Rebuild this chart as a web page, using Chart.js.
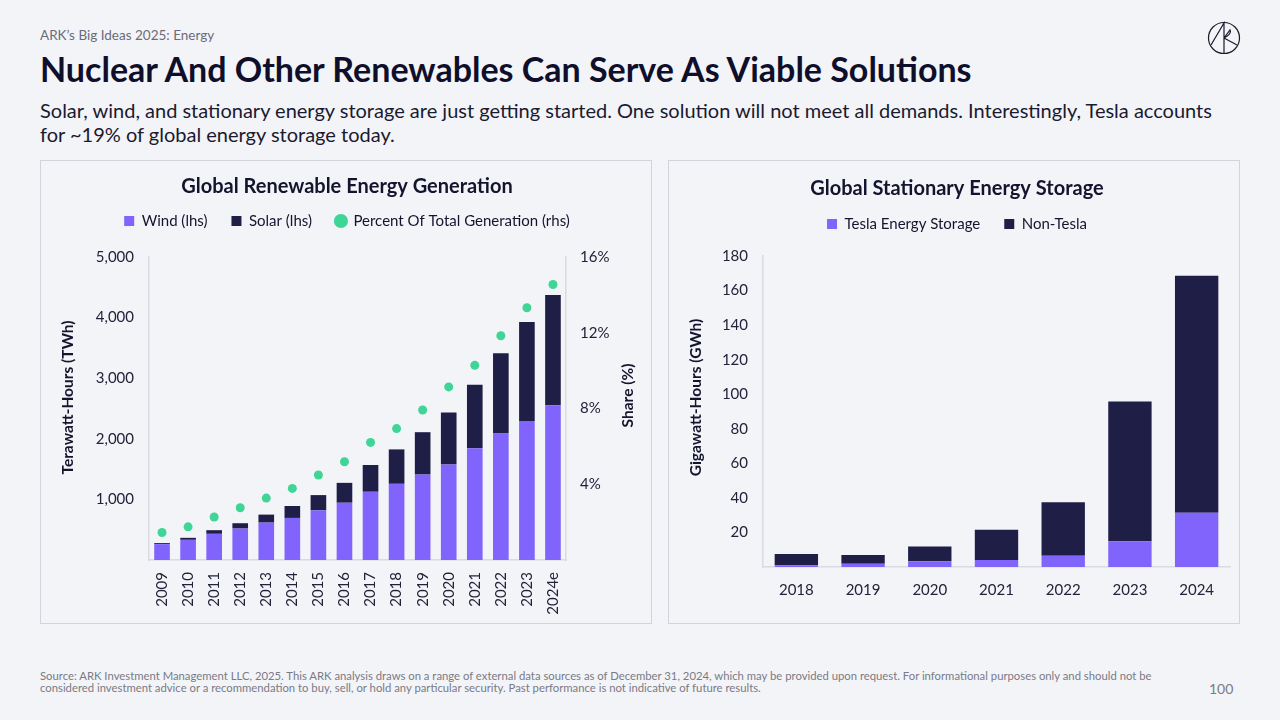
<!DOCTYPE html>
<html>
<head>
<meta charset="utf-8">
<script src="https://cdn.jsdelivr.net/npm/chart.js@4.4.1/dist/chart.umd.min.js"></script>
<style>
  html, body { margin: 0; padding: 0; }
  body { width: 1280px; height: 720px; background: #f3f4f8; font-family: Lato, 'Noto Sans', sans-serif; color: #14142e; position: relative; overflow: hidden; }
  .kicker { position: absolute; left: 40px; top: 27px; font-size: 13.5px; color: #6b6b78; }
  .title { position: absolute; left: 40px; top: 48px; font-size: 34px; font-weight: 700; color: #0f0f2b; }
  .sub { position: absolute; left: 40px; top: 98px; font-size: 20px; line-height: 24px; color: #1a1a30; }
  .panel { position: absolute; top: 160px; height: 464px; border: 1px solid #d3d4db; box-sizing: border-box; }
  #p1 { left: 40px; width: 612px; }
  #p2 { left: 668px; width: 572px; }
  .panel canvas { position: absolute; left: 0; top: 0; }
  .foot { position: absolute; left: 40px; top: 670px; font-size: 11.3px; line-height: 12px; color: #7a7a86; white-space: nowrap; }
  .page { position: absolute; left: 1209px; top: 680px; font-size: 14px; color: #7a7a86; }
  .logo { position: absolute; left: 1207px; top: 21px; }
</style>
</head>
<body>
<div class="kicker">ARK’s Big Ideas 2025: Energy</div>
<div class="title">Nuclear And Other Renewables Can Serve As Viable Solutions</div>
<div class="sub">Solar, wind, and stationary energy storage are just getting started. One solution will not meet all demands. Interestingly, Tesla accounts<br>for ~19% of global energy storage today.</div>
<svg class="logo" width="34" height="34" viewBox="0 0 34 34">
  <circle cx="17" cy="17" r="15.5" fill="none" stroke="#1a1a2e" stroke-width="1.2"/>
  <path d="M4 24 L17 2 L17 32 M17 17 L30 24 M17 17 L23 9 Q25 13 17 17" fill="none" stroke="#1a1a2e" stroke-width="1.2"/>
</svg>

<div class="panel" id="p1"><canvas id="energyChart" width="610" height="462"></canvas></div>
<div class="panel" id="p2"><canvas id="storageChart" width="570" height="462"></canvas></div>

<div class="foot">Source: ARK Investment Management LLC, 2025. This ARK analysis draws on a range of external data sources as of December 31, 2024, which may be provided upon request. For informational purposes only and should not be<br>considered investment advice or a recommendation to buy, sell, or hold any particular security. Past performance is not indicative of future results.</div>
<div class="page">100</div>

<script>
// left chart data
var genYears = ['2009', '2010', '2011', '2012', '2013', '2014', '2015', '2016', '2017', '2018', '2019', '2020', '2021', '2022', '2023', '2024e'];
var windTwh = [262, 333, 432, 519, 617, 694, 820, 945, 1126, 1257, 1410, 1574, 1842, 2087, 2295, 2552];
var solarTwh = [17, 33, 60, 88, 132, 197, 251, 328, 442, 568, 699, 858, 1049, 1323, 1634, 1820];
var sharePct = [1.45, 1.75, 2.27, 2.76, 3.27, 3.78, 4.49, 5.19, 6.21, 6.94, 7.92, 9.14, 10.28, 11.84, 13.32, 14.55];

// right chart data
var storageYears = ['2018', '2019', '2020', '2021', '2022', '2023', '2024'];
var teslaGwh = [1.0, 1.9, 3.3, 4.0, 6.5, 14.9, 31.4];
var nonTeslaGwh = [6.5, 5.0, 8.6, 17.6, 31.0, 80.9, 137.1];

var purple = '#8064fc';
var navy = '#1f1e47';
var green = '#3fd596';
var textCol = '#22223a';
var axisCol = '#d9dae2';
var fontFam = "Lato, 'Noto Sans', sans-serif";

Chart.defaults.font.family = fontFam;
Chart.defaults.color = textCol;

// adds space under the legend
var legendGap = {
  id: 'legendGap',
  beforeInit: function(chart) {
    var fit = chart.legend.fit;
    chart.legend.fit = function() {
      fit.call(this);
      this.height += chart.options.plugins.legendGap.extra;
    };
  }
};

// rotated axis titles, all reading bottom to top
var axisTitles = {
  id: 'axisTitles',
  afterDraw: function(chart, args, opts) {
    var ctx = chart.ctx;
    var area = chart.chartArea;
    (opts.items || []).forEach(function(t) {
      ctx.save();
      ctx.translate(t.x, (area.top + area.bottom) / 2 + t.dy);
      ctx.rotate(-Math.PI / 2);
      ctx.font = 'bold 15.5px ' + fontFam;
      ctx.fillStyle = '#14142e';
      ctx.textAlign = 'center';
      ctx.textBaseline = 'middle';
      ctx.fillText(t.text, 0, 0);
      ctx.restore();
    });
  }
};

function fixWidth(w) { return function(axis) { axis.width = w; }; }
function fixHeight(h) { return function(axis) { axis.height = h; }; }

var energyChart = new Chart(document.getElementById('energyChart').getContext('2d'), {
  type: 'bar',
  data: {
    labels: genYears,
    datasets: [{
      label: 'Wind (lhs)',
      data: windTwh,
      backgroundColor: purple,
      pointStyle: 'rect',
      stack: 'gen',
      barPercentage: 0.6,
      categoryPercentage: 1
    }, {
      label: 'Solar (lhs)',
      data: solarTwh,
      backgroundColor: navy,
      pointStyle: 'rect',
      stack: 'gen',
      barPercentage: 0.6,
      categoryPercentage: 1
    }, {
      type: 'line',
      label: 'Percent Of Total Generation (rhs)',
      data: sharePct,
      yAxisID: 'y1',
      showLine: false,
      pointStyle: 'circle',
      pointRadius: 4.5,
      pointHoverRadius: 5,
      backgroundColor: green,
      borderColor: green,
      borderWidth: 0
    }]
  },
  options: {
    responsive: false,
    animation: false,
    layout: { padding: { left: 15, right: 13, top: 0, bottom: 0 } },
    plugins: {
      title: {
        display: true,
        text: 'Global Renewable Energy Generation',
        color: '#14142e',
        font: { size: 20, weight: 'bold' },
        padding: { top: 14, bottom: -9.5 }
      },
      legend: {
        labels: {
          usePointStyle: true,
          boxWidth: 10,
          boxHeight: 10,
          padding: 24,
          color: '#14142e',
          font: { size: 15 },
          sort: function(a, b) { return a.datasetIndex - b.datasetIndex; }
        }
      },
      legendGap: { extra: 18.5 },
      axisTitles: { items: [
        { text: 'Terawatt-Hours (TWh)', x: 27, dy: -11 },
        { text: 'Share (%)', x: 587, dy: -13 }
      ] },
      tooltip: { enabled: false }
    },
    scales: {
      x: {
        stacked: true,
        grid: { display: false, drawTicks: false },
        border: { color: axisCol, width: 1.5 },
        ticks: { minRotation: 90, maxRotation: 90, padding: 12, font: { size: 15 }, color: textCol },
        afterFit: fixHeight(63)
      },
      y: {
        stacked: true,
        min: 0,
        max: 5000,
        grid: { display: false, drawTicks: false },
        border: { color: axisCol, width: 1.5 },
        ticks: {
          stepSize: 1000,
          padding: 15,
          font: { size: 15 },
          color: textCol,
          callback: function(v) { return v === 0 ? '' : v.toLocaleString('en-US'); }
        },
        afterFit: fixWidth(93)
      },
      y1: {
        position: 'right',
        min: 0,
        max: 16,
        grid: { display: false, drawTicks: false },
        border: { color: axisCol, width: 1.5 },
        ticks: {
          stepSize: 4,
          padding: 14,
          font: { size: 15 },
          color: textCol,
          callback: function(v) { return v === 0 ? '' : v + '%'; }
        },
        afterFit: fixWidth(72)
      }
    }
  },
  plugins: [legendGap, axisTitles]
});

var storageChart = new Chart(document.getElementById('storageChart').getContext('2d'), {
  type: 'bar',
  data: {
    labels: storageYears,
    datasets: [{
      label: 'Tesla Energy Storage',
      data: teslaGwh,
      backgroundColor: purple,
      pointStyle: 'rect',
      barPercentage: 0.65,
      categoryPercentage: 1
    }, {
      label: 'Non-Tesla',
      data: nonTeslaGwh,
      backgroundColor: navy,
      pointStyle: 'rect',
      barPercentage: 0.65,
      categoryPercentage: 1
    }]
  },
  options: {
    responsive: false,
    animation: false,
    layout: { padding: { left: 15, right: 9, top: 0, bottom: 0 } },
    plugins: {
      title: {
        display: true,
        text: 'Global Stationary Energy Storage',
        color: '#14142e',
        font: { size: 20, weight: 'bold' },
        padding: { top: 16, bottom: -8.5 }
      },
      legend: {
        labels: {
          usePointStyle: true,
          boxWidth: 10,
          boxHeight: 10,
          padding: 24,
          color: '#14142e',
          font: { size: 15 }
        }
      },
      legendGap: { extra: 14.5 },
      axisTitles: { items: [
        { text: 'Gigawatt-Hours (GWh)', x: 27, dy: -14 }
      ] },
      tooltip: { enabled: false }
    },
    scales: {
      x: {
        stacked: true,
        grid: { display: false, drawTicks: false },
        border: { color: axisCol, width: 1.5 },
        ticks: { padding: 14, font: { size: 15 }, color: textCol },
        afterFit: fixHeight(56)
      },
      y: {
        stacked: true,
        min: 0,
        max: 180,
        grid: { display: false, drawTicks: false },
        border: { color: axisCol, width: 1.5 },
        ticks: {
          stepSize: 20,
          padding: 15,
          font: { size: 15 },
          color: textCol,
          callback: function(v) { return v === 0 ? '' : v; }
        },
        afterFit: fixWidth(79)
      }
    }
  },
  plugins: [legendGap, axisTitles]
});
</script>
</body>
</html>
